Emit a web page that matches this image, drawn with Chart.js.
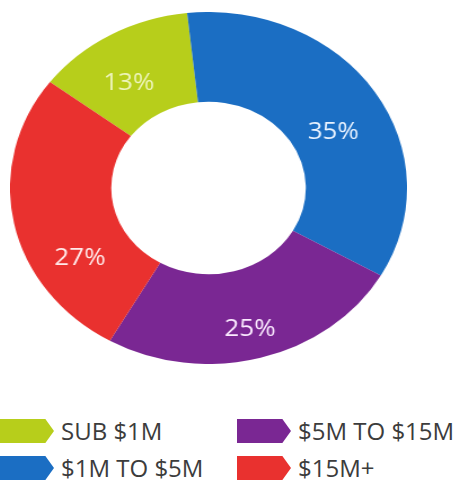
<!DOCTYPE html>
<html>
<head>
<meta charset="utf-8">
<script src="https://cdn.jsdelivr.net/npm/chart.js@4/dist/chart.umd.min.js"></script>
<style>
    html, body { margin: 0; padding: 0; background: #fff; }
    body { width: 457px; height: 483px; position: relative; overflow: hidden; font-family: "Open Sans", sans-serif; }
    #ring { position: absolute; left: 10px; top: 12px; transform: scaleX(1.128); transform-origin: 0 0; }
    .key { position: absolute; height: 24px; line-height: 24px; font-size: 24px; color: #3c3c3c; white-space: nowrap; }
    .key .tag { position: absolute; left: 0; top: 0; width: 54px; height: 24px;
        clip-path: polygon(0 0, 84% 0, 100% 50%, 84% 100%, 0 100%); }
    .key span { position: absolute; left: 61px; top: 0; }
</style>
</head>
<body>
<canvas id="ring" width="352" height="352"></canvas>
<div id="legend"></div>

<script>
/* Доли по размеру сделок */
const segments = ["SUB $1M", "$1M TO $5M", "$5M TO $15M", "$15M+"];
const shares = [13, 35, 25, 27];
const colors = ["#b7ce1b", "#1b6ec3", "#7a2793", "#e9312f"];
const labelColors = ["#eef5bd", "#e8f2ff", "#fbeaff", "#ffeaea"];

// небольшой поворот подписей относительно середины сектора (в градусах)
const labelTurn = [-3, 4, 0, -18];
// где по толщине кольца стоит подпись (0 — внутренний край, 1 — внешний)
const labelDepth = [0.5, 0.45, 0.6, 0.5];
const labelLift = 6;

/* Подписи процентов внутри колец */
const percentLabels = {
    id: "percentLabels",
    afterDatasetsDraw(chart) {
        const ctx = chart.ctx;
        const meta = chart.getDatasetMeta(0);
        ctx.save();
        ctx.font = "23px 'Open Sans', sans-serif";
        ctx.textAlign = "center";
        ctx.textBaseline = "middle";
        meta.data.forEach((arc, i) => {
            const p = arc.getProps(["x", "y", "startAngle", "endAngle", "innerRadius", "outerRadius"], true);
            const mid = (p.startAngle + p.endAngle) / 2 + labelTurn[i] * Math.PI / 180;
            const r = p.innerRadius + (p.outerRadius - p.innerRadius) * labelDepth[i];
            ctx.fillStyle = labelColors[i];
            ctx.fillText(shares[i] + "%", p.x + Math.cos(mid) * r, p.y + Math.sin(mid) * r + labelLift);
        });
        ctx.restore();
    }
};

new Chart(document.getElementById("ring"), {
    type: "doughnut",
    data: {
        labels: segments,
        datasets: [{
            data: shares,
            backgroundColor: colors,
            borderWidth: 0
        }]
    },
    options: {
        responsive: false,
        animation: false,
        cutout: "49%",
        rotation: -53,
        layout: { padding: 0 },
        plugins: {
            legend: { display: false },
            tooltip: { enabled: false }
        }
    },
    plugins: [percentLabels]
});

/* Легенда в две колонки: слева SUB и $1M-$5M, справа остальные */
const legendSpots = [[0, 419], [0, 456], [237, 419], [237, 456]];
const legend = document.getElementById("legend");
segments.forEach((name, i) => {
    const item = document.createElement("div");
    item.className = "key";
    item.style.left = legendSpots[i][0] + "px";
    item.style.top = legendSpots[i][1] + "px";
    item.innerHTML = '<div class="tag" style="background:' + colors[i] + '"></div><span>' + name + "</span>";
    legend.appendChild(item);
});
</script>
</body>
</html>
